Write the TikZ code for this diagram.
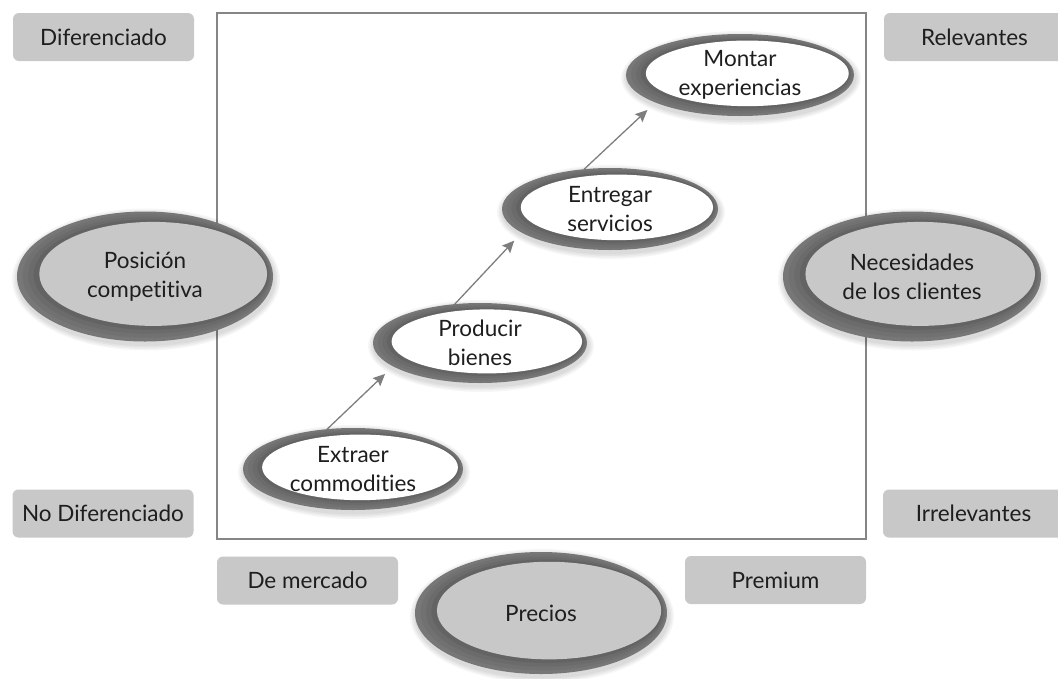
\documentclass[tikz,border=0pt]{standalone}
\usepackage{fontspec}
\setmainfont[Ligatures={NoCommon,NoContextual}]{Lato}
\usetikzlibrary{shapes.geometric,arrows.meta}
\definecolor{framegray}{HTML}{858585}
\definecolor{boxgray}{HTML}{C8C8C8}
\definecolor{ringgray}{HTML}{777777}
\definecolor{ringdark}{HTML}{5E5E5E}
\definecolor{catgray}{HTML}{C8C8C8}
\definecolor{arrgray}{HTML}{7E7E7E}
\definecolor{txtcol}{HTML}{1E1E1E}
\newcommand{\lblfont}{\fontsize{22.5}{29}\selectfont}
\newcommand{\dellipse}[7]{%
  \pgfmathsetmacro{\myrx}{#4/2}\pgfmathsetmacro{\myry}{#5/2}%
  \foreach \k in {1,...,4}{%
    \pgfmathsetmacro{\sa}{\myrx+1.5*\k}\pgfmathsetmacro{\sb}{\myry+1.5*\k}%
    \fill[black,opacity=0.035] (#2+1,#3+3) ellipse [x radius=\sa pt, y radius=\sb pt];
  }
  \node[outerell, minimum width=#4pt, minimum height=#5pt] (#1) at (#2,#3) {};
  \foreach \t/\c in {0.25/25,0.5/50,0.75/80}{%
    \pgfmathsetmacro{\sa}{\myrx*(1-0.11*\t)}\pgfmathsetmacro{\sb}{\myry*(1-0.2*\t)}%
    \pgfmathsetmacro{\dx}{0.032*#4*\t}\pgfmathsetmacro{\dy}{-0.02*#5*\t}%
    \fill[ringdark!\c!ringgray] (#2+\dx,#3+\dy) ellipse [x radius=\sa pt, y radius=\sb pt];
  }
  \node[innerell, fill=#6, minimum width={0.89*#4pt}, minimum height={0.8*#5pt},
        xshift={0.032*#4pt}, yshift={0.02*#5pt}] (#1-in) at (#2,#3) {};
  \node[lbl] (#1-t) at (#2,#3) {#7};
}
\begin{document}
\begin{tikzpicture}[x=1pt,y=-1pt,
  frame/.style={draw=framegray, line width=2pt},
  box/.style={rectangle, rounded corners=6pt, fill=boxgray, minimum width=181pt,
              minimum height=48pt, inner sep=0pt, font=\lblfont, text=txtcol},
  outerell/.style={ellipse, fill=ringgray, inner sep=0pt, outer sep=0pt},
  innerell/.style={ellipse, inner sep=0pt, outer sep=0pt},
  lbl/.style={align=center, font=\lblfont, text=txtcol, inner sep=0pt},
  arr/.style={draw=arrgray, line width=1.3pt,
              -{Stealth[length=12pt,width=11pt,inset=2pt]}, shorten >=11pt},
]
\useasboundingbox (0,0) rectangle (1058,678);
\fill[white] (0,0) rectangle (1058,678);

% frame
\draw[frame] (216.7,12.7) rectangle (866,539);

% boxes
\node[box] (dif)   at (103.5,37)   {Diferenciado};
\node[box] (nodif) at (103,513.5)  {No Diferenciado};
\node[box] (rel)   at (974.5,37)   {Relevantes};
\node[box] (irr)   at (973.5,513.5){Irrelevantes};
\node[box] (dem)   at (307.5,580.5){De mercado};
\node[box] (prem)  at (775.5,580)  {Premium};

% category ellipses
\dellipse{pos}{145}{276.5}{256}{130}{catgray}{Posición\\competitiva}
\dellipse{nec}{912}{276.5}{258}{130}{catgray}{Necesidades\\de los clientes}
\dellipse{pre}{541}{613}{252}{122}{catgray}{Precios}

% process ellipses
\dellipse{ext}{353}{469}{220}{82}{white}{Extraer\\commodities}
\dellipse{pro}{480}{343}{214}{80}{white}{Producir\\bienes}
\dellipse{ent}{610}{209}{216}{82}{white}{Entregar\\servicios}
\dellipse{mon}{740}{75}{228}{82}{white}{Montar\\experiencias}

% arrows
\draw[arr] (ext.123) -- (pro.195);
\draw[arr] (pro.123) -- (ent.195);
\draw[arr] (ent.123) -- (mon.198);
\end{tikzpicture}
\end{document}
